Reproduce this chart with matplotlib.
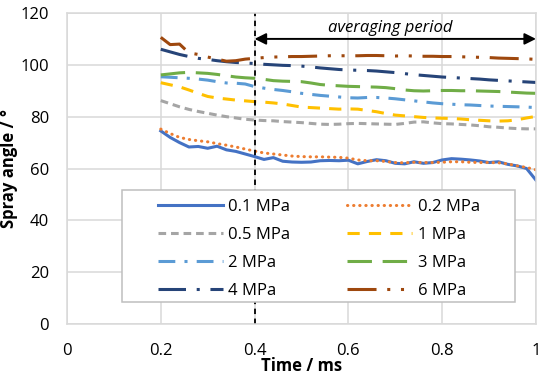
import matplotlib.pyplot as plt
from matplotlib.patches import Rectangle
import numpy as np

plt.rcParams['font.family'] = ['Open Sans', 'DejaVu Sans']

# time axis (ms)
t = np.round(np.arange(0.20, 1.001, 0.02), 2)

p01 = [74.5, 72.0, 70.0, 68.3, 68.5, 67.8, 68.6, 67.2, 66.6, 65.6, 64.6, 63.5, 64.2, 62.8,
       62.5, 62.4, 62.5, 63.0, 63.1, 63.0, 63.2, 61.8, 62.7, 63.4, 63.0, 62.0, 61.8, 62.6,
       62.0, 62.3, 63.3, 63.8, 63.6, 63.3, 62.9, 62.3, 62.6, 61.6, 61.0, 60.0, 55.5]
p02 = [75.2, 73.5, 72.0, 71.2, 70.7, 70.3, 69.6, 69.0, 68.3, 67.5, 66.7, 66.0, 65.6, 65.2,
       64.8, 64.6, 64.5, 64.5, 64.4, 64.3, 64.0, 63.3, 63.0, 63.0, 62.7, 62.3, 62.2, 62.4,
       62.3, 62.3, 62.4, 62.6, 62.6, 62.4, 62.3, 62.3, 62.2, 61.8, 61.0, 60.4, 59.5]
p05 = [86.2, 85.0, 83.8, 82.8, 82.0, 81.3, 80.6, 80.0, 79.5, 79.0, 78.7, 78.5, 78.4, 78.1,
       77.9, 77.7, 77.4, 77.1, 77.0, 77.1, 77.3, 77.4, 77.3, 77.2, 77.1, 77.0, 77.4, 77.9,
       78.0, 77.6, 77.3, 77.2, 77.0, 76.8, 76.5, 76.1, 75.9, 75.6, 75.4, 75.3, 75.3]
p1 = [93.1, 92.3, 91.5, 90.3, 89.0, 87.8, 87.2, 86.8, 86.4, 86.1, 85.8, 85.6, 85.3, 84.9,
      84.3, 83.7, 83.5, 83.3, 83.1, 82.9, 83.0, 82.9, 82.4, 81.9, 81.2, 80.6, 80.3, 80.0,
      79.7, 79.5, 79.4, 79.3, 79.1, 78.8, 78.6, 78.4, 78.3, 78.4, 78.8, 79.5, 80.1]
p2 = [95.4, 95.2, 95.0, 94.8, 94.5, 94.1, 93.5, 93.0, 92.9, 92.6, 91.6, 91.0, 90.5, 90.1,
      89.6, 89.0, 88.6, 88.2, 87.9, 87.6, 87.3, 87.2, 87.4, 87.4, 87.2, 86.9, 86.5, 86.1,
      85.7, 85.3, 85.0, 84.8, 84.6, 84.5, 84.3, 84.1, 84.0, 83.9, 83.8, 83.7, 83.5]
p3 = [96.1, 96.5, 96.9, 97.1, 96.9, 96.7, 96.3, 95.8, 95.3, 95.0, 94.8, 94.4, 93.9, 93.7,
      93.6, 93.5, 93.0, 92.4, 92.1, 91.9, 91.7, 91.6, 91.5, 91.4, 91.2, 90.8, 90.3, 90.0,
      89.9, 90.0, 90.1, 90.1, 90.0, 90.0, 89.9, 89.8, 89.7, 89.5, 89.3, 89.1, 89.0]
p4 = [106.0, 105.0, 104.0, 103.2, 102.5, 102.1, 101.6, 101.2, 100.9, 100.7, 100.5, 100.2,
      100.0, 99.8, 99.7, 99.5, 99.2, 98.8, 98.5, 98.2, 98.0, 97.9, 97.8, 97.6, 97.3, 97.0,
      96.6, 96.2, 95.9, 95.6, 95.3, 95.1, 94.9, 94.7, 94.5, 94.2, 94.0, 93.8, 93.6, 93.4, 93.2]
p6 = [110.6, 107.8, 108.0, 104.6, 104.0, 103.0, 102.2, 101.4, 101.6, 102.2, 102.5, 102.8,
      103.0, 103.1, 103.2, 103.2, 103.3, 103.4, 103.5, 103.5, 103.5, 103.5, 103.6, 103.6,
      103.5, 103.4, 103.5, 103.4, 103.3, 103.3, 103.2, 103.2, 103.1, 103.0, 102.9, 102.8,
      102.6, 102.5, 102.4, 102.3, 102.1]

labels = ['0.1 MPa', '0.2 MPa', '0.5 MPa', '1 MPa', '2 MPa', '3 MPa', '4 MPa', '6 MPa']
series = [p01, p02, p05, p1, p2, p3, p4, p6]
colors = ['#4472C4', '#ED7D31', '#A5A5A5', '#FFC000', '#5B9BD5', '#70AD47', '#264478', '#9E480E']
styles = ['-', (0, (0.1, 1.9)), (0, (2.5, 1.6)), (0, (4, 3)), (0, (5.5, 3, 1, 3)),
          (0, (8, 3.5)), (0, (9, 3.5, 1, 3.5)), (0, (9.5, 3.5, 1, 3.5, 1, 3.5))]

fig = plt.figure(figsize=(5.5, 3.82), dpi=100)
ax = fig.add_axes([0.1218, 0.1518, 0.8527, 0.8142])

handles = []
for y, lab, c, ls in zip(series, labels, colors, styles):
    cap = 'round' if lab == '0.2 MPa' else 'butt'
    h, = ax.plot(t, y, color=c, linestyle=ls, lw=2.2, label=lab, dash_capstyle=cap)
    handles.append(h)

ax.set_xlim(0, 1)
ax.set_ylim(0, 120)
ax.set_xticks([0, 0.2, 0.4, 0.6, 0.8, 1])
ax.set_xticklabels(['0', '0.2', '0.4', '0.6', '0.8', '1'])
ax.set_yticks(range(0, 121, 20))
ax.grid(True, color='#D9D9D9', lw=1.1)
ax.set_axisbelow(True)
for s in ax.spines.values():
    s.set_color('#D9D9D9')
    s.set_linewidth(1.1)
ax.tick_params(length=0, labelsize=12)
ax.tick_params(axis='x', pad=14)
ax.tick_params(axis='y', pad=13)

ax.set_xlabel('Time / ms', fontsize=12, fontweight='bold', labelpad=-2)
ax.set_ylabel('Spray angle / °', fontsize=12, fontweight='bold', labelpad=2)

# averaging window
ax.plot([0.4, 0.4], [0, 120], color='black', lw=1.3, linestyle=(0, (3, 2.5)))
ax.annotate('', xy=(1.0, 110), xytext=(0.4, 110),
            arrowprops=dict(arrowstyle='<|-|>', color='black', lw=1.4,
                            mutation_scale=17, shrinkA=0, shrinkB=0))
ax.text(0.69, 114.4, 'averaging period', fontsize=12, style='italic',
        ha='center', va='center')

# legend box drawn separately (wide side padding like the original)
box = Rectangle((0.117, 0.071), 0.838, 0.36, transform=ax.transAxes,
                facecolor='white', edgecolor='#BFBFBF', lw=1.1, zorder=4.5)
ax.add_patch(box)
order = [0, 2, 4, 6, 1, 3, 5, 7]
leg = ax.legend([handles[i] for i in order], [labels[i] for i in order], ncol=2,
                loc='center', bbox_to_anchor=(0.537, 0.242), fontsize=12,
                handlelength=3.9, handletextpad=0.35, labelspacing=0.72,
                columnspacing=3.4, borderaxespad=0, frameon=False)
leg.set_zorder(5)

fig.savefig('out.png', dpi=100)
